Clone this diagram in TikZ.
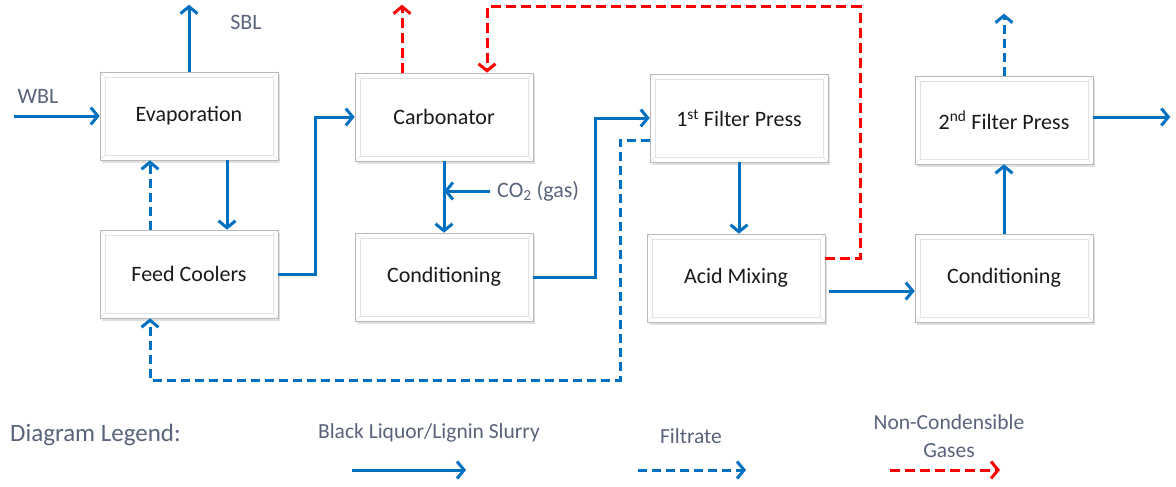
\documentclass[tikz,border=0pt]{standalone}
\usepackage{fontspec}
\setmainfont{Carlito}
\usetikzlibrary{arrows.meta,shadows,calc}
\definecolor{flowblue}{RGB}{0,112,192}
\definecolor{gasred}{RGB}{255,0,0}
\definecolor{labelgray}{RGB}{89,99,122}
\definecolor{unittext}{RGB}{26,26,26}
\tikzset{
  unit/.style={draw=gray!55, line width=0.6pt, fill=white,
    minimum width=178pt, minimum height=88pt, inner sep=0pt,
    text=unittext, font=\fontsize{22}{24}\selectfont,
    drop shadow={shadow xshift=1.5pt, shadow yshift=-3pt, opacity=0.3, fill=gray!80},
    path picture={
      \draw[gray!22, line width=0.6pt]
        ([shift={(5pt,-5pt)}]path picture bounding box.north west) rectangle
        ([shift={(-5pt,5pt)}]path picture bounding box.south east);
      \draw[gray!22, line width=0.6pt]
        (path picture bounding box.north west) -- ++(5pt,-5pt)
        (path picture bounding box.north east) -- ++(-5pt,-5pt)
        (path picture bounding box.south west) -- ++(5pt,5pt)
        (path picture bounding box.south east) -- ++(-5pt,5pt);
    }},
  tag/.style={text=labelgray, font=\fontsize{22}{24}\selectfont, inner sep=0pt},
  legendtext/.style={text=labelgray, font=\fontsize{21.5}{28}\selectfont, inner sep=0pt, align=center},
  tip/.style={-{Straight Barb[length=7pt,width=17pt,line width=3pt]}},
  flow/.style={draw=flowblue, line width=3pt, tip},
  filtrate/.style={flow, dash pattern=on 9pt off 5pt},
  gas/.style={draw=gasred, line width=3pt, tip, dash pattern=on 10pt off 5pt},
}
\begin{document}
\begin{tikzpicture}[x=1pt,y=-1pt]
\useasboundingbox (0,0) rectangle (1176,487);

% process units
\node[unit] (evap)  at (189,116) {Evaporation};
\node[unit] (feed)  at (189,274) {Feed Coolers};
\node[unit] (carb)  at (444,117) {Carbonator};
\node[unit] (cond1) at (444,277) {Conditioning};
\node[unit] (fp1)   at (739,118) {1\textsuperscript{st} Filter Press};
\node[unit] (acid)  at (736,278) {Acid Mixing};
\node[unit] (fp2)   at (1004,120) {2\textsuperscript{nd} Filter Press};
\node[unit] (cond2) at (1004,278) {Conditioning};

% free ends and turning points
\coordinate (wblin) at (14,116);
\coordinate (nctop) at (860,7);
\coordinate (fret)  at (620,380);

% stream labels
\node[tag] (wbl) at (38,96) {WBL};
\node[tag] (sbl) at (246,22) {SBL};
\node[tag, anchor=west] (co2) at (497,191) {CO\textsubscript{2} (gas)};

% black liquor / lignin slurry
\draw[flow] (wblin) -- (evap.west);
\draw[flow] (evap.north) -- ++(0,-67);
\draw[flow] ([xshift=38pt]evap.south) -- ([xshift=38pt]feed.north);
\draw[flow] (feed.east) -- ++(37,0) |- (carb.west);
\draw[flow] (carb.south) -- (cond1.north);
\draw[flow] ([xshift=-7pt]co2.west) -- (co2.west -| carb.south);
\draw[flow] (cond1.east) -- ++(62,0) |- (fp1.west);
\draw[flow] (fp1.south) -- (fp1.south |- acid.north);
\draw[flow] ([xshift=4pt,yshift=-13pt]acid.east) -- ([yshift=-13pt]cond2.west);
\draw[flow] (cond2.north) -- (fp2.south);
\draw[flow] ([yshift=3pt]fp2.east) -- ++(77,0);

% filtrate
\draw[filtrate] ([xshift=-39pt]feed.north) -- ([xshift=-39pt]evap.south);
\draw[filtrate] ([yshift=-22pt]fp1.west) -| (fret) -| ([xshift=-39pt]feed.south);
\draw[filtrate] (fp2.north) -- ++(0,-62);

% non-condensible gases
\draw[gas] ([xshift=-42pt]carb.north) -- ++(0,-68);
\draw[gas] ([yshift=20pt]acid.east) -| (nctop) -| ([xshift=43pt]carb.north);

% legend
\node[text=labelgray, font=\fontsize{25}{28}\selectfont, inner sep=0pt, anchor=west] (lgd) at (10,435) {Diagram Legend:};
\node[legendtext] (lgslurry) at (429,433) {Black Liquor/Lignin Slurry};
\node[legendtext] (lgfilt) at (691,436) {Filtrate};
\node[legendtext] (lggas) at (949,436) {Non-Condensible\\Gases};
\coordinate (ls0) at (352,470); \coordinate (ls1) at (466,470);
\coordinate (lf0) at (638,470); \coordinate (lf1) at (746,470);
\coordinate (lg0) at (890,470); \coordinate (lg1) at (1000,470);
\draw[flow] (ls0) -- (ls1);
\draw[filtrate] (lf0) -- (lf1);
\draw[gas] (lg0) -- (lg1);
\end{tikzpicture}
\end{document}
